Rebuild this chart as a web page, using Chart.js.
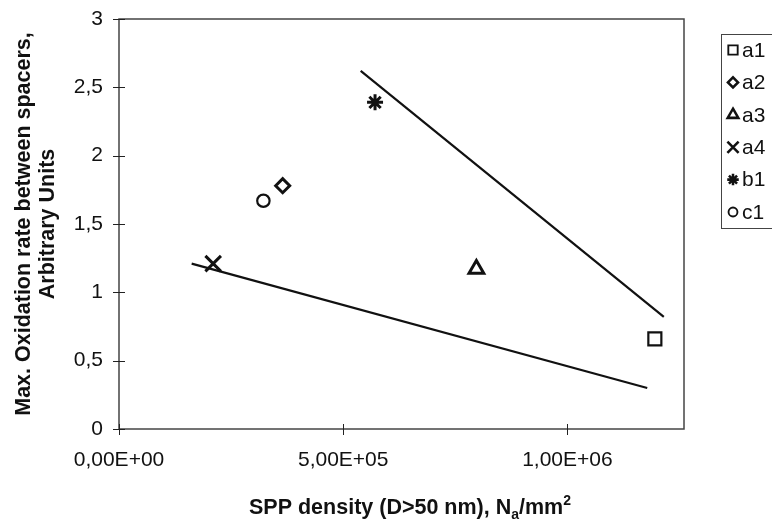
<!DOCTYPE html>
<html>
<head>
<meta charset="UTF-8" />
<title>Max. oxidation rate vs SPP density</title>
<script src="https://cdn.jsdelivr.net/npm/chart.js"></script>
<style>
  html, body { margin: 0; padding: 0; background: #fff; }
</style>
</head>
<body>
<canvas id="oxChart" width="772" height="523"></canvas>
<script>
// measured points, one per alloy
const seriesNames = ['a1', 'a2', 'a3', 'a4', 'b1', 'c1'];
const sppDensity = [1.195e6, 3.65e5, 7.97e5, 2.1e5, 5.71e5, 3.22e5];
const oxidationRate = [0.66, 1.78, 1.17, 1.21, 2.39, 1.67];

// the two hand-drawn trend lines (end points)
const upperLineX = [5.39e5, 1.215e6];
const upperLineY = [2.62, 0.82];
const lowerLineX = [1.62e5, 1.178e6];
const lowerLineY = [1.21, 0.30];

const xTicks = [0, 5e5, 1e6];
const yTicks = [0, 0.5, 1, 1.5, 2, 2.5, 3];

const markers = {
    a1: { style: 'rect', r: 9.2, w: 2.2 },
    a2: { style: 'rectRot', r: 7, w: 3 },
    a3: { style: 'triangle', r: 8.5, w: 3 },
    a4: { style: 'crossRot', r: 11, w: 3 },
    b1: { style: 'star', r: 8, w: 3 },
    c1: { style: 'circle', r: 6.2, w: 2.2 }
};

const ink = '#111';
const fontFamily = '"Liberation Sans", Arial, sans-serif';
const tickFont = { family: fontFamily, size: 21 };

function sci(v) {
    if (v === 0) return '0,00E+00';
    const e = Math.floor(Math.log10(v));
    const m = (v / Math.pow(10, e)).toFixed(2).replace('.', ',');
    return m + 'E+' + String(e).padStart(2, '0');
}

const pointSets = seriesNames.map((name, i) => ({
    label: name,
    data: [{ x: sppDensity[i], y: oxidationRate[i] }],
    pointStyle: markers[name].style,
    pointRadius: markers[name].r,
    pointBorderWidth: markers[name].w,
    pointBackgroundColor: '#fff',
    pointBorderColor: ink,
    showLine: false
}));

function trend(xs, ys) {
    return {
        label: '',
        data: xs.map((x, i) => ({ x: x, y: ys[i] })),
        showLine: true,
        borderColor: ink,
        borderWidth: 2.2,
        pointRadius: 0
    };
}

const frame = {
    id: 'frame',
    afterDraw(chart) {
        const ctx = chart.ctx;
        const a = chart.chartArea;
        const sx = chart.scales.x, sy = chart.scales.y;
        ctx.save();

        // plot box
        ctx.strokeStyle = '#444';
        ctx.lineWidth = 1.5;
        ctx.strokeRect(a.left, a.top, a.right - a.left, a.bottom - a.top);

        // cross tick marks
        ctx.strokeStyle = '#222';
        ctx.lineWidth = 1;
        ctx.beginPath();
        sx.ticks.forEach(t => {
            const px = Math.round(sx.getPixelForValue(t.value)) + 0.5;
            ctx.moveTo(px, a.bottom - 5);
            ctx.lineTo(px, a.bottom + 6);
        });
        sy.ticks.forEach(t => {
            const py = Math.round(sy.getPixelForValue(t.value)) + 0.5;
            ctx.moveTo(a.left - 6, py);
            ctx.lineTo(a.left + 6, py);
        });
        ctx.stroke();

        // y axis title, two lines
        ctx.fillStyle = ink;
        ctx.font = 'bold 21.5px ' + fontFamily;
        ctx.textAlign = 'center';
        ctx.textBaseline = 'middle';
        ctx.save();
        ctx.translate(0, (a.top + a.bottom) / 2);
        ctx.rotate(-Math.PI / 2);
        ctx.fillText('Max. Oxidation rate between spacers,', 0, 24);
        ctx.fillText('Arbitrary Units', 0, 48);
        ctx.restore();

        // x axis title with sub/superscript
        const big = 'bold 21.5px ' + fontFamily;
        const small = 'bold 14px ' + fontFamily;
        const parts = [
            { t: 'SPP density (D>50 nm), N', f: big, dy: 0 },
            { t: 'a', f: small, dy: 5 },
            { t: '/mm', f: big, dy: 0 },
            { t: '2', f: small, dy: -9 }
        ];
        let total = 0;
        parts.forEach(p => { ctx.font = p.f; p.w = ctx.measureText(p.t).width; total += p.w; });
        let x = 410 - total / 2;
        ctx.textAlign = 'left';
        ctx.textBaseline = 'alphabetic';
        parts.forEach(p => {
            ctx.font = p.f;
            ctx.fillText(p.t, x, 514 + p.dy);
            x += p.w;
        });

        // legend
        ctx.strokeStyle = '#444';
        ctx.lineWidth = 1;
        ctx.strokeRect(721.5, 34.5, 60, 194);
        ctx.font = '21px ' + fontFamily;
        ctx.textBaseline = 'middle';
        seriesNames.forEach((name, i) => {
            const y = 50 + i * 32.4;
            const m = markers[name];
            ctx.fillStyle = '#fff';
            ctx.strokeStyle = ink;
            ctx.lineWidth = m.w * 0.85;
            Chart.helpers.drawPoint(ctx, { pointStyle: m.style, radius: m.r * 0.72, borderWidth: m.w * 0.85, rotation: 0 }, 733, y);
            ctx.fillStyle = ink;
            ctx.fillText(name, 742, y + 1);
        });

        ctx.restore();
    }
};

new Chart(document.getElementById('oxChart').getContext('2d'), {
    type: 'scatter',
    data: {
        datasets: pointSets.concat([trend(upperLineX, upperLineY), trend(lowerLineX, lowerLineY)])
    },
    options: {
        responsive: false,
        animation: false,
        devicePixelRatio: 1,
        layout: { padding: { top: 19, right: 88, left: 0, bottom: 0 } },
        plugins: {
            legend: { display: false },
            tooltip: { enabled: false }
        },
        scales: {
            x: {
                type: 'linear',
                min: 0,
                max: 1.26e6,
                afterBuildTicks: s => { s.ticks = xTicks.map(v => ({ value: v })); },
                afterFit: s => { s.height = 94; s.paddingLeft = 0; s.paddingRight = 0; },
                ticks: { font: tickFont, color: ink, padding: 19, maxRotation: 0, callback: v => sci(v) },
                grid: { display: false, drawTicks: false },
                border: { display: false }
            },
            y: {
                min: 0,
                max: 3,
                afterBuildTicks: s => { s.ticks = yTicks.map(v => ({ value: v })); },
                afterFit: s => { s.width = 119; s.paddingTop = 0; s.paddingBottom = 0; },
                ticks: { font: tickFont, color: ink, padding: 16, callback: v => String(v).replace('.', ',') },
                grid: { display: false, drawTicks: false },
                border: { display: false }
            }
        }
    },
    plugins: [frame]
});
</script>
</body>
</html>
